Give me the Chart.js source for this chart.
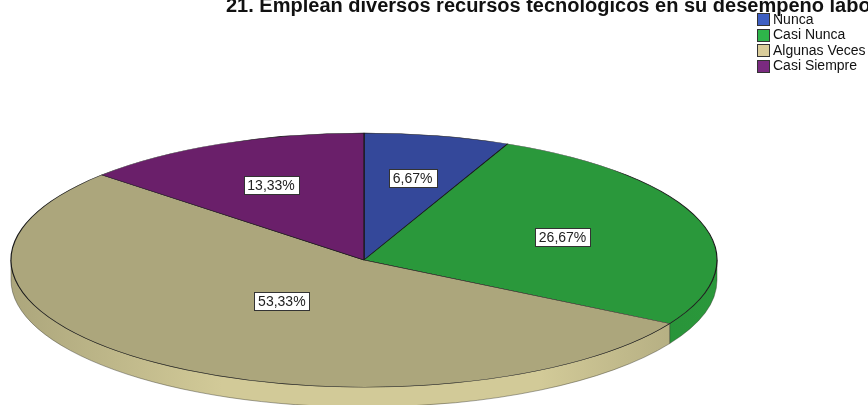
<!DOCTYPE html>
<html>
<head>
<meta charset="utf-8">
<script src="https://cdn.jsdelivr.net/npm/chart.js@4"></script>
<style>
    html, body { margin: 0; padding: 0; background: #fff; overflow: hidden; }
    #wrap { position: relative; width: 868px; height: 405px; }
</style>
</head>
<body>
<div id="wrap"><canvas id="chartTorta"></canvas></div>
<script>
const titulo = "21. Emplean diversos recursos tecnológicos en su desempeño laboral";
const categorias = ["Nunca", "Casi Nunca", "Algunas Veces", "Casi Siempre"];
const porcentajes = [6.67, 26.67, 53.33, 13.33];

// cara superior (sombreada) y colores de la leyenda
const coloresCara = ["#34489a", "#2a983b", "#aca67c", "#6a1f6a"];
const coloresBorde = ["#2a3c85", "#268a36", "#d2ca98", "#561858"];
const coloresLeyenda = ["#3e5fc2", "#2eb54a", "#dacd9b", "#7a2a80"];

const APLANADO = 0.36;   // relación alto/ancho de la elipse
const GROSOR = 20;       // espesor del disco

const fmt = v => v.toFixed(2).replace(".", ",") + "%";

// disco 3D: dibuja el canto y achata la torta verticalmente
const torta3D = {
    id: "torta3D",
    beforeDatasetsDraw(chart) {
        const ctx = chart.ctx;
        const arcos = chart.getDatasetMeta(0).data;
        if (!arcos.length) return;
        const cx = arcos[0].x, cy = arcos[0].y;
        const rx = arcos[0].outerRadius, ry = rx * APLANADO;

        arcos.forEach((a, i) => {
            // solo la mitad delantera (0..PI) se ve
            const tramos = [];
            for (let k = -1; k <= 1; k++) {
                const s = Math.max(a.startAngle, k * 2 * Math.PI);
                const e = Math.min(a.endAngle, k * 2 * Math.PI + Math.PI);
                if (e > s) tramos.push([s - k * 2 * Math.PI, e - k * 2 * Math.PI]);
            }
            tramos.forEach(([s, e]) => {
                ctx.save();
                ctx.beginPath();
                ctx.ellipse(cx, cy, rx, ry, 0, s, e, false);
                ctx.lineTo(cx + rx * Math.cos(e), cy + ry * Math.sin(e) + GROSOR);
                ctx.ellipse(cx, cy + GROSOR, rx, ry, 0, e, s, true);
                ctx.closePath();
                const g = ctx.createLinearGradient(cx - rx, 0, cx + rx, 0);
                g.addColorStop(0, coloresCara[i]);
                g.addColorStop(0.3, coloresBorde[i]);
                g.addColorStop(0.75, coloresBorde[i]);
                g.addColorStop(1, coloresCara[i]);
                ctx.fillStyle = g;
                ctx.fill();
                ctx.strokeStyle = "rgba(40,40,30,0.5)";
                ctx.lineWidth = 0.8;
                ctx.stroke();
                ctx.restore();
            });
        });

        ctx.save();
        ctx.translate(cx, cy);
        ctx.scale(1, APLANADO);
        ctx.translate(-cx, -cy);
    },
    afterDatasetsDraw(chart) {
        const ctx = chart.ctx;
        ctx.restore();
        const arcos = chart.getDatasetMeta(0).data;

        // etiquetas en el centroide de cada sector
        ctx.save();
        ctx.font = "14px 'Liberation Sans', Arial, sans-serif";
        ctx.textAlign = "center";
        ctx.textBaseline = "middle";
        arcos.forEach((a, i) => {
            const th = a.endAngle - a.startAngle;
            const mid = a.startAngle + th / 2;
            const d = 4 * a.outerRadius * Math.sin(th / 2) / (3 * th);
            const x = a.x + d * Math.cos(mid);
            const y = a.y + d * Math.sin(mid) * APLANADO;
            const txt = fmt(porcentajes[i]);
            const w = Math.round(ctx.measureText(txt).width + 8), h = 18;
            const bx = Math.round(x - w / 2) + 0.5, by = Math.round(y - h / 2) + 0.5;
            ctx.fillStyle = "#fff";
            ctx.fillRect(bx, by, w, h);
            ctx.strokeStyle = "#333";
            ctx.lineWidth = 1;
            ctx.strokeRect(bx, by, w, h);
            ctx.fillStyle = "#222";
            ctx.fillText(txt, x, y + 1);
        });
        ctx.restore();
    },
    afterDraw(chart) {
        const ctx = chart.ctx;
        ctx.save();
        // título (recortado arriba)
        ctx.font = "bold 20px 'Liberation Sans', Arial, sans-serif";
        ctx.fillStyle = "#111";
        ctx.textBaseline = "alphabetic";
        ctx.fillText(titulo, 226, 12);

        // leyenda
        ctx.font = "14px 'Liberation Sans', Arial, sans-serif";
        ctx.textBaseline = "middle";
        categorias.forEach((c, i) => {
            const y = 19 + i * 15.5;
            const by = Math.round(y - 6) + 0.5;
            ctx.fillStyle = coloresLeyenda[i];
            ctx.fillRect(757.5, by, 12, 12);
            ctx.strokeStyle = "#333";
            ctx.lineWidth = 1;
            ctx.strokeRect(757.5, by, 12, 12);
            ctx.fillStyle = "#111";
            ctx.fillText(c, 773, y + 1);
        });
        ctx.restore();
    }
};

new Chart(document.getElementById("chartTorta"), {
    type: "pie",
    data: {
        labels: categorias,
        datasets: [{
            data: porcentajes,
            backgroundColor: coloresCara,
            borderColor: "#1a1a1a",
            borderWidth: 1.2,
            clip: false
        }]
    },
    options: {
        responsive: true,
        maintainAspectRatio: false,
        animation: false,
        radius: 353,
        layout: { padding: { left: 0, right: 140, top: 115, bottom: 0 } },
        plugins: {
            legend: { display: false },
            tooltip: { enabled: false },
            title: { display: false }
        }
    },
    plugins: [torta3D]
});
</script>
</body>
</html>
